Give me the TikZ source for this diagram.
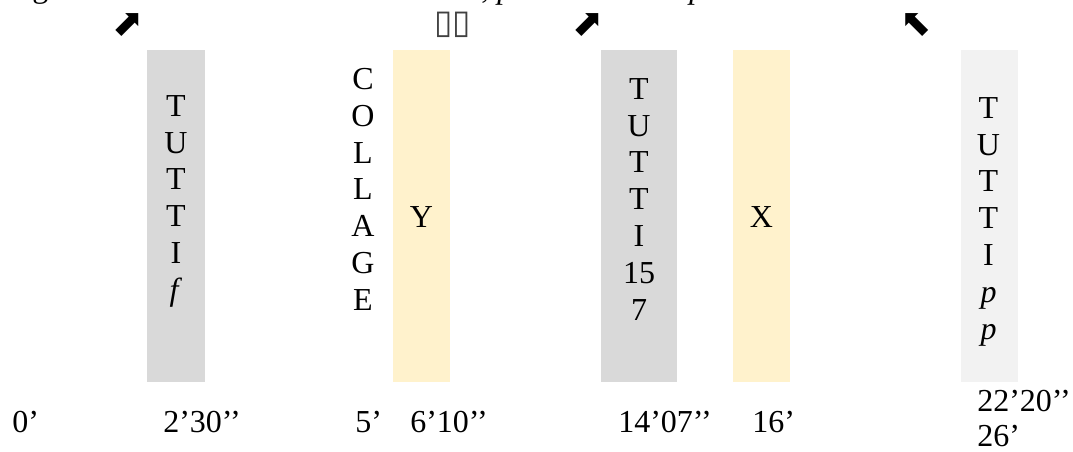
\documentclass[tikz,border=0pt]{standalone}
\usepackage{fontspec}
\setmainfont{Liberation Serif}
\newfontfamily\symfont{DejaVu Sans}
\usepackage{xcolor}
\usepackage{tikz}
\usetikzlibrary{positioning}
\definecolor{barGray}{RGB}{217,217,217}
\definecolor{barYel}{RGB}{255,242,204}
\definecolor{barLight}{RGB}{242,242,242}
\definecolor{boxLine}{RGB}{64,64,64}
\tikzset{
  bar/.style={rectangle, draw=none, minimum height=249pt, inner sep=0pt},
  letters/.style={font=\fontsize{24}{27.6}\selectfont, align=center,
                  inner sep=0pt, anchor=north},
  txt/.style={font=\fontsize{24}{27.6}\selectfont, inner sep=0pt},
  tick/.style={txt, anchor=base west},
  icon/.style={font=\fontsize{28}{28}\selectfont\symfont, inner sep=0pt},
}
\begin{document}
\begin{tikzpicture}[x=0.75pt,y=-0.75pt]
  \useasboundingbox (0,0) rectangle (1073,452);

  % --- clipped line above the picture ---
  \node[tick] (cutA) at (32,-2) {g};
  \node[tick] (cutB) at (481,-1) {,\ \textit{p}};
  \node[tick] (cutC) at (689,-1) {\textit{p}};

  % --- top signs ---
  \node[icon] (arrA) at (128,25) {⬈};
  \node[icon, text=boxLine, font=\fontsize{25}{25}\selectfont\symfont]
       (boxes) at (453,25) {▯▯};
  \node[icon] (arrB) at (588,25) {⬈};
  \node[icon] (arrC) at (916,25) {⬉};

  % --- bars ---
  \node[bar, fill=barGray, minimum width=43.5pt] (b1) at (176,216) {};
  \node[bar, fill=barYel, minimum width=42.75pt] (bY) at (421.5,216) {};
  \node[bar, fill=barGray, minimum width=57pt] (b3) at (639,216) {};
  \node[bar, fill=barYel, minimum width=42.75pt] (bX) at (761.5,216) {};
  \node[bar, fill=barLight, minimum width=42.75pt] (b5) at (989.5,216) {};

  % --- stacked words ---
  \node[letters] (tutF) at (176,95) {T\\U\\T\\T\\I\\\textit{f}};
  \node[letters] (coll) at (363,68) {C\\O\\L\\L\\A\\G\\E};
  \node[txt] (secY) at (421.5,217.5) {Y};
  \node[letters] (tut15) at (639,78) {T\\U\\T\\T\\I\\15\\7};
  \node[txt] (secX) at (761.5,217.5) {X};
  \node[letters] (tutP) at (988.5,97) {T\\U\\T\\T\\I\\\textit{p}\\\textit{p}};

  % --- time marks ---
  \node[tick] (m0) at (12,432) {0’};
  \node[tick] (m1) at (163,432) {2’30’’};
  \node[tick] (m2) at (355,432) {5’};
  \node[tick] (m3) at (410,432) {6’10’’};
  \node[tick] (m4) at (618,432) {14’07’’};
  \node[tick] (m5) at (752,432) {16’};
  \node[txt, font=\fontsize{24}{26}\selectfont, align=left,
        anchor=north west] (m6) at (977,390) {22’20’’\\26’};
\end{tikzpicture}
\end{document}
